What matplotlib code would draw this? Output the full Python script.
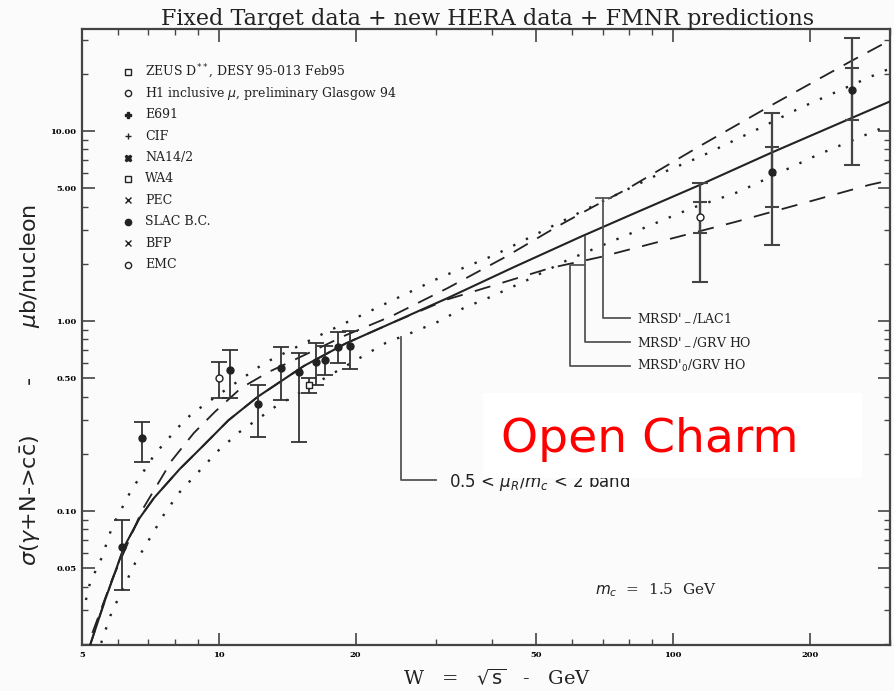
import matplotlib.pyplot as plt
import matplotlib.ticker as mticker
from matplotlib.patches import Rectangle

# FMNR predictions (W in GeV, sigma in microbarn/nucleon)
grv_W = [5.21, 5.62, 6.19, 6.7, 7.2, 8.2, 9.18, 10.5, 12.2, 15.4, 19.0, 23.9, 31.9, 44.6, 62.5, 80.5, 114.5, 164, 247, 300]
grv_sigma = [0.0197, 0.034, 0.0647, 0.092, 0.117, 0.166, 0.217, 0.30, 0.40, 0.58, 0.76, 0.97, 1.32, 1.92, 2.77, 3.61, 5.2, 7.66, 11.7, 14.3]

band_hi_W = [5.1, 5.21, 5.53, 5.82, 6.4, 7.24, 8.3, 8.73, 10.0, 12.6, 17.1, 22.4, 30.8, 40.4, 46.1, 62.5, 92.2, 114.5, 157, 190, 284, 300]
band_hi_sigma = [0.034, 0.042, 0.057, 0.082, 0.127, 0.20, 0.29, 0.325, 0.41, 0.60, 0.865, 1.18, 1.70, 2.22, 2.60, 3.74, 5.87, 7.3, 10.5, 13.2, 20.2, 21.3]

band_lo_W = [5.51, 5.77, 5.95, 6.55, 7.61, 8.21, 10.0, 11.1, 13.3, 23.3, 26.5, 30.3, 34.6, 39.7, 47.7, 58.5, 76.2, 110, 139, 208, 292, 300]
band_lo_sigma = [0.0202, 0.028, 0.0329, 0.0534, 0.0976, 0.126, 0.209, 0.26, 0.353, 0.766, 0.865, 0.988, 1.17, 1.34, 1.64, 2.09, 2.73, 3.93, 4.77, 7.49, 10.5, 10.8]

lac1_W = [5.27, 5.82, 6.78, 7.89, 8.81, 9.8, 11.2, 12.9, 15.4, 19.0, 24.0, 31.9, 42.4, 55.7, 66.8, 79.2, 114.5, 164, 247, 300]
lac1_sigma = [0.0228, 0.0434, 0.101, 0.185, 0.257, 0.332, 0.444, 0.54, 0.66, 0.84, 1.06, 1.49, 2.15, 3.15, 4.0, 4.95, 8.33, 13.6, 23.4, 30.0]

mrsd0_W = [5.21, 5.62, 6.19, 6.7, 7.2, 8.2, 9.18, 10.5, 12.2, 15.4, 19.0, 23.9, 31.9, 37.1, 45.0, 53.7, 69.2, 100, 137, 200, 270, 300]
mrsd0_sigma = [0.0197, 0.034, 0.0647, 0.092, 0.117, 0.166, 0.217, 0.30, 0.40, 0.58, 0.76, 0.97, 1.30, 1.45, 1.67, 1.90, 2.17, 2.73, 3.32, 4.26, 5.2, 5.5]

# fixed target measurements
ft_W = [6.12, 6.78, 10.0, 10.6, 12.2, 13.7, 15.05, 15.8, 16.4, 17.1, 18.3, 19.4]
ft_sigma = [0.0647, 0.242, 0.501, 0.552, 0.366, 0.566, 0.539, 0.46, 0.608, 0.62, 0.73, 0.74]
ft_lo = [0.0385, 0.181, 0.394, 0.394, 0.245, 0.384, 0.231, 0.42, 0.46, 0.52, 0.60, 0.56]
ft_hi = [0.0897, 0.294, 0.609, 0.704, 0.46, 0.73, 0.68, 0.50, 0.766, 0.74, 0.87, 0.88]
ft_marker = ['o', 'o', 'o', 'o', 'o', 'o', 'o', 's', 'o', 'o', 'o', 'o']
ft_filled = [True, True, False, True, True, True, True, False, True, True, True, True]

# HERA measurements (total and statistical errors)
hera_W = [114.5, 165, 247]
hera_sigma = [3.53, 6.08, 16.4]
hera_tot_lo = [1.60, 2.51, 6.63]
hera_tot_hi = [5.33, 12.4, 30.9]
hera_stat_lo = [2.9, 3.98, 11.4]
hera_stat_hi = [4.23, 8.2, 21.4]
hera_filled = [False, True, True]

legend_labels = ['ZEUS D$^{**}$, DESY 95-013 Feb95', 'H1 inclusive $\\mu$, preliminary Glasgow 94',
                 'E691', 'CIF', 'NA14/2', 'WA4', 'PEC', 'SLAC B.C.', 'BFP', 'EMC']
legend_markers = ['s', 'o', 'P', '+', 'X', 's', 'x', 'o', 'x', 'o']
legend_filled = [False, False, True, True, True, False, True, True, True, False]

xticks = [5, 10, 20, 50, 100, 200]
yticks = [0.05, 0.1, 0.5, 1, 5, 10]
ytick_labels = ['0.05', '0.10', '0.50', '1.00', '5.00', '10.00']

ink = '#222222'
serif = 'DejaVu Serif'

fig = plt.figure(figsize=(8.94, 6.91), dpi=100)
fig.patch.set_facecolor('#fbfbfb')
ax = fig.add_axes([82 / 894, 1 - 645 / 691, 808 / 894, 616 / 691])
ax.set_facecolor('#fbfbfb')
ax.set_xscale('log')
ax.set_yscale('log')
ax.set_xlim(5.0, 300)
ax.set_ylim(0.0197, 34.4)

# curves
ax.plot(grv_W, grv_sigma, color=ink, lw=1.5, zorder=3)
ax.plot(band_hi_W, band_hi_sigma, color=ink, lw=1.7, ls=(0, (1, 5)), zorder=3)
ax.plot(band_lo_W, band_lo_sigma, color=ink, lw=1.7, ls=(0, (1, 5)), zorder=3)
ax.plot(lac1_W, lac1_sigma, color=ink, lw=1.3, ls=(0, (9, 6)), zorder=3)
ax.plot(mrsd0_W, mrsd0_sigma, color=ink, lw=1.3, ls=(0, (9, 7)), zorder=3)

# data points
for w, s, lo, hi, m, f in zip(ft_W, ft_sigma, ft_lo, ft_hi, ft_marker, ft_filled):
    ax.errorbar([w], [s], yerr=[[s - lo], [hi - s]], fmt=m, ms=5,
                mfc=ink if f else 'white', mec=ink, ecolor='#333333',
                elinewidth=1.3, capsize=5.5, capthick=1.3, zorder=4)

for w, s, tlo, thi, slo, shi, f in zip(hera_W, hera_sigma, hera_tot_lo, hera_tot_hi,
                                        hera_stat_lo, hera_stat_hi, hera_filled):
    ax.errorbar([w], [s], yerr=[[s - tlo], [thi - s]], fmt='o', ms=5,
                mfc=ink if f else 'white', mec=ink, ecolor='#444444',
                elinewidth=1.6, capsize=6, capthick=1.5, zorder=4)
    ax.errorbar([w], [s], yerr=[[s - slo], [shi - s]], fmt='none',
                ecolor='#444444', elinewidth=1.6, capsize=5, capthick=1.5, zorder=4)

# legend
for i, (lab, m, f) in enumerate(zip(legend_labels, legend_markers, legend_filled)):
    yy = (645 - (72 + 21.4 * i)) / 616
    ax.plot([0.057], [yy], marker=m, ms=4.5, mew=1.0, color=ink,
            mfc=ink if f else 'none', transform=ax.transAxes, clip_on=False)
    ax.text(0.078, yy, lab, transform=ax.transAxes, fontsize=9, family=serif,
            va='center', ha='left', color=ink)

# bracket annotations
bc = '#555555'
ax.plot([70.2, 70.2, 80.5], [4.44, 1.037, 1.037], color=bc, lw=1.3, zorder=3)
ax.plot([67.5, 73.0], [4.44, 4.44], color=bc, lw=1.3, zorder=3)
ax.plot([63.8, 63.8, 80.5], [2.77, 0.775, 0.775], color=bc, lw=1.3, zorder=3)
ax.plot([63.8, 59.2, 59.2, 80.5], [1.97, 1.97, 0.580, 0.580], color=bc, lw=1.3, zorder=3)
ax.text(83.4, 1.037, "MRSD'$_-$/LAC1", fontsize=9, family=serif, va='center', color=ink)
ax.text(83.4, 0.775, "MRSD'$_-$/GRV HO", fontsize=9, family=serif, va='center', color=ink)
ax.text(83.4, 0.580, "MRSD'$_0$/GRV HO", fontsize=9, family=serif, va='center', color=ink)

ax.plot([25.2, 25.2, 30.1], [0.824, 0.146, 0.146], color=bc, lw=1.3, zorder=3)
ax.text(32.1, 0.142, '0.5 < $\\mu_R/m_c$ < 2 band', fontsize=12, va='center',
        color=ink, zorder=3)

ax.text(0.635, (645 - 590) / 616, '$m_c$  =  1.5  GeV', transform=ax.transAxes,
        fontsize=11, family=serif, va='center', color=ink)

# pasted label
ax.add_patch(Rectangle(((483 - 82) / 808, (645 - 478) / 616), 379 / 808, 85 / 616,
                       transform=ax.transAxes, facecolor='white', edgecolor='none', zorder=5))
ax.text((650 - 82) / 808, (645 - 440) / 616, 'Open Charm', transform=ax.transAxes,
        fontsize=34, color='#ff0000', ha='center', va='center', zorder=6)

# axes styling
for sp in ax.spines.values():
    sp.set_color('#444444')
    sp.set_linewidth(1.6)
ax.xaxis.set_major_locator(mticker.FixedLocator(xticks))
ax.xaxis.set_major_formatter(mticker.FixedFormatter([str(t) for t in xticks]))
ax.xaxis.set_minor_locator(mticker.LogLocator(base=10, subs=range(1, 10)))
ax.xaxis.set_minor_formatter(mticker.NullFormatter())
ax.yaxis.set_major_locator(mticker.FixedLocator(yticks))
ax.yaxis.set_major_formatter(mticker.FixedFormatter(ytick_labels))
ax.yaxis.set_minor_locator(mticker.LogLocator(base=10, subs=range(1, 10)))
ax.yaxis.set_minor_formatter(mticker.NullFormatter())
ax.tick_params(which='both', direction='in', top=True, right=True, color='#444444')
ax.tick_params(which='major', length=9, width=1.2, labelsize=6, pad=4)
ax.tick_params(which='minor', length=4, width=1.0)
for lbl in ax.get_xticklabels() + ax.get_yticklabels():
    lbl.set_family(serif)
    lbl.set_fontweight('bold')

fig.text(488 / 894, 1 - 19 / 691, 'Fixed Target data + new HERA data + FMNR predictions',
         ha='center', va='center', fontsize=16, family=serif, color=ink)
fig.text(497 / 894, 1 - 678 / 691, 'W   =   $\\sqrt{\\mathrm{s}}$   -   GeV',
         ha='center', va='center', fontsize=14, family=serif, color=ink)
fig.text(31 / 894, 1 - 385 / 691,
         '$\\sigma$($\\gamma$+N->c$\\bar{\\mathrm{c}}$)       -       $\\mu$b/nucleon',
         ha='center', va='center', rotation=90, fontsize=16, color=ink)

fig.savefig('out.png', dpi=100, facecolor=fig.get_facecolor())
